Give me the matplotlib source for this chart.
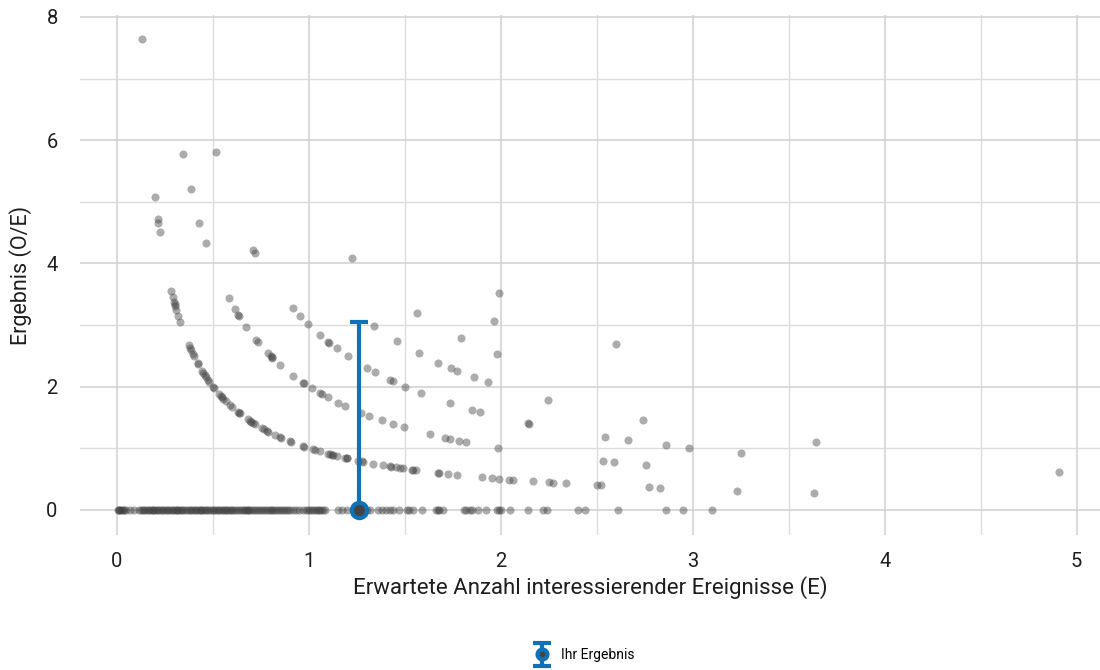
"""O/E funnel-style scatter: observed vs expected events, with own result highlighted."""
import numpy as np
import matplotlib
matplotlib.use("Agg")
import matplotlib.pyplot as plt
from matplotlib.ticker import MultipleLocator
from matplotlib.legend_handler import HandlerErrorbar

plt.rcParams["font.family"] = ["Roboto", "DejaVu Sans"]

# expected events (E) of each unit, grouped by observed count O
e_obs0 = [0.0, 0.004, 0.008, 0.012, 0.018, 0.025, 0.03, 0.038, 0.045, 0.07, 0.09,
          0.115, 0.125, 0.135, 0.14, 0.15, 0.16, 0.168, 0.175, 0.185, 0.19, 0.2,
          0.21, 0.215, 0.225, 0.235, 0.24, 0.25, 0.26, 0.265, 0.275, 0.285, 0.29,
          0.3, 0.31, 0.315, 0.325, 0.335, 0.34, 0.35, 0.36, 0.37, 0.38, 0.385,
          0.395, 0.405, 0.41, 0.42, 0.43, 0.44, 0.445, 0.455, 0.465, 0.47, 0.48,
          0.49, 0.5, 0.505, 0.515, 0.525, 0.53, 0.54, 0.55, 0.56, 0.57, 0.575,
          0.585, 0.595, 0.6, 0.61, 0.62, 0.63, 0.64, 0.65, 0.66, 0.665, 0.675,
          0.685, 0.69, 0.7, 0.71, 0.72, 0.73, 0.74, 0.75, 0.76, 0.77, 0.78, 0.79,
          0.8, 0.81, 0.82, 0.83, 0.84, 0.85, 0.86, 0.87, 0.88, 0.89, 0.9, 0.915,
          0.93, 0.95, 0.97, 0.985, 0.995, 1.005, 1.015, 1.025, 1.035, 1.045, 1.055,
          1.065, 1.075, 1.085, 1.15, 1.17, 1.2, 1.24, 1.3, 1.32, 1.36, 1.38, 1.4,
          1.42, 1.44, 1.47, 1.51, 1.52, 1.54, 1.59, 1.66, 1.67, 1.68, 1.7, 1.81,
          1.82, 1.84, 1.85, 1.88, 1.92, 1.98, 1.99, 2.0, 2.05, 2.14, 2.22, 2.24,
          2.4, 2.44, 2.61, 2.86, 2.95, 3.1]
e_obs1 = [0.131, 0.197, 0.212, 0.215, 0.222, 0.281, 0.29, 0.296, 0.3, 0.303, 0.308,
          0.318, 0.328, 0.375, 0.38, 0.385, 0.396, 0.401, 0.42, 0.424, 0.445, 0.45,
          0.458, 0.465, 0.474, 0.481, 0.5, 0.505, 0.531, 0.54, 0.547, 0.554, 0.568,
          0.589, 0.6, 0.63, 0.637, 0.64, 0.682, 0.693, 0.7, 0.708, 0.72, 0.755,
          0.766, 0.78, 0.788, 0.823, 0.849, 0.855, 0.901, 0.905, 0.969, 0.975,
          1.02, 1.03, 1.057, 1.1, 1.109, 1.118, 1.127, 1.146, 1.1875, 1.196, 1.2,
          1.257, 1.274, 1.28, 1.335, 1.387, 1.42, 1.43, 1.453, 1.474, 1.488, 1.535,
          1.54, 1.56, 1.674, 1.68, 1.725, 1.774, 1.9, 1.956, 1.99, 2.04, 2.064,
          2.165, 2.25, 2.27, 2.34, 2.5, 2.52, 2.77, 2.83, 3.23, 3.63]
e_obs2 = [0.346, 0.384, 0.429, 0.462, 0.583, 0.615, 0.632, 0.637, 0.673, 0.724,
          0.736, 0.788, 0.8, 0.806, 0.81, 0.85, 0.918, 0.97, 0.975, 1.014, 1.058,
          1.066, 1.097, 1.153, 1.19, 1.27, 1.315, 1.38, 1.436, 1.497, 1.63, 1.71,
          1.736, 1.78, 1.82, 1.985, 2.53, 2.59, 2.755]
e_obs3 = [0.516, 0.711, 0.719, 0.915, 0.952, 0.993, 1.06, 1.1, 1.107, 1.145, 1.205,
          1.305, 1.342, 1.42, 1.44, 1.5, 1.585, 1.734, 1.85, 1.89, 2.14, 2.146,
          2.54, 2.66, 2.86, 2.98, 3.25, 4.91]
e_obs4 = [1.34, 1.46, 1.575, 1.674, 1.74, 1.773, 1.862, 1.935, 2.245, 2.74, 3.64]
e_obs5 = [1.222, 1.563, 1.794, 1.98]
e_obs6 = [1.963]
e_obs7 = [1.99, 2.6]

# own result
own_e = 1.26
own_oe = 0.0
own_upper = 3.05

groups = [(0, e_obs0), (1, e_obs1), (2, e_obs2), (3, e_obs3),
          (4, e_obs4), (5, e_obs5), (6, e_obs6), (7, e_obs7)]
E = np.concatenate([np.asarray(e, float) for _, e in groups])
O = np.concatenate([np.full(len(e), o, float) for o, e in groups])
OE = O / E

BLUE = "#0F72B7"
TXT = "#1e1e1e"

fig = plt.figure(figsize=(11, 6.7), dpi=100)
ax = fig.add_axes([0.0727, 0.2015, 0.927, 0.776])

ax.scatter(E, OE, s=34, color="#404040", alpha=0.43, linewidths=0, zorder=3)

ax.errorbar([own_e], [own_oe], yerr=[[own_oe - 0.0], [own_upper - own_oe]],
            fmt="o", color=BLUE, ecolor=BLUE, elinewidth=3, capsize=6.5,
            capthick=3, ms=11, mfc="#444444", mec=BLUE, mew=3, zorder=5,
            label="Ihr Ergebnis")

ax.set_xlim(-0.193, 5.12)
ax.set_ylim(-0.41, 8.03)
ax.xaxis.set_major_locator(MultipleLocator(1))
ax.xaxis.set_minor_locator(MultipleLocator(0.5))
ax.yaxis.set_major_locator(MultipleLocator(2))
ax.yaxis.set_minor_locator(MultipleLocator(1))
ax.grid(which="major", color="#d0d0d0", linewidth=1.1)
ax.grid(which="minor", color="#dcdcdc", linewidth=1.0)
ax.set_axisbelow(True)
for s in ax.spines.values():
    s.set_visible(False)
ax.tick_params(which="both", length=0, labelsize=14.5, colors=TXT)
ax.tick_params(axis="x", pad=12)
ax.tick_params(axis="y", pad=16)

ax.set_xlabel("Erwartete Anzahl interessierender Ereignisse (E)", fontsize=16,
              color=TXT, labelpad=4)
ax.set_ylabel("Ergebnis (O/E)", fontsize=15.5, color=TXT, labelpad=10)

fig.legend(loc="center", bbox_to_anchor=(0.532, 0.022), frameon=False,
           fontsize=10, markerscale=0.65, handlelength=0.9, handletextpad=0.9,
           handler_map={type(ax.containers[0]): HandlerErrorbar(xerr_size=0.45, yerr_size=0.8)})

fig.savefig("out.png", dpi=100)
